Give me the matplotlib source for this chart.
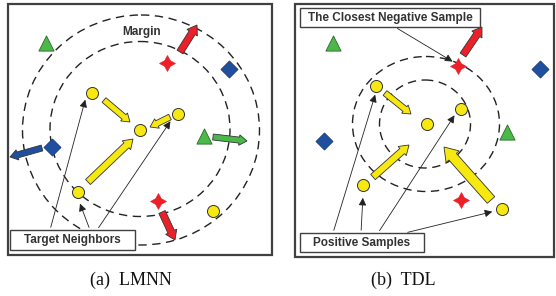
import matplotlib
matplotlib.use("Agg")
import matplotlib.pyplot as plt
from matplotlib.patches import FancyArrow, Ellipse, Rectangle, FancyArrowPatch

W, H = 556, 296
RED = "#ec2028"; YEL = "#f7e80f"; BLUE = "#1f4f9e"; GREEN = "#4db84a"

# ---- panel (a) LMNN ----
a_rings = [(141, 130, 237, 230), (140, 129, 180, 175)]
a_yellow = [(92, 93), (178, 114), (140, 130), (78, 192), (213, 211)]
a_red = [(167, 63), (158, 201)]
a_blue = [(229, 69), (52, 147)]
a_green = [(46, 43), (204, 136)]
a_arrows = [  # (x0, y0, x1, y1, colour, width)
    (180, 52, 197, 25, RED, 7),
    (162, 212, 175, 240, RED, 7),
    (213, 137, 247, 141, GREEN, 6),
    (42, 148, 10, 157, BLUE, 6),
    (104, 100, 130, 122, YEL, 6),
    (170, 117, 150, 127, YEL, 6),
    (88, 182, 133, 139, YEL, 7),
]
a_box = (10, 230, 125, 20, "Target Neighbors")
a_lines = [(50, 230, 86, 97), (97, 230, 172, 119), (90, 230, 79, 201)]

# ---- panel (b) TDL ----
b_rings = [(426, 124, 147, 135), (425, 124, 91, 88)]
b_yellow = [(376, 86), (461, 109), (427, 124), (363, 185), (502, 209)]
b_red = [(458, 66), (461, 200)]
b_blue = [(540, 69), (324, 141)]
b_green = [(333, 43), (507, 132)]
b_arrows = [
    (463, 55, 482, 27, RED, 7),
    (385, 93, 411, 114, YEL, 6),
    (373, 177, 409, 145, YEL, 7),
    (491, 200, 444, 147, YEL, 10),
]
b_box = (300, 233, 124, 19, "Positive Samples")
b_box2 = (300, 8, 180, 19, "The Closest Negative Sample")
b_lines = [(333, 233, 376, 92), (361, 233, 363, 195), (378, 233, 456, 113),
           (405, 233, 495, 211), (395, 27, 455, 63)]

captions = [(131, 280, "(a)  LMNN"), (403, 280, "(b)  TDL")]

fig = plt.figure(figsize=(W / 100, H / 100), dpi=100)
ax = fig.add_axes([0, 0, 1, 1])
ax.set_xlim(0, W); ax.set_ylim(H, 0); ax.axis("off")

# panel frames
ax.add_patch(Rectangle((8, 4), 264, 251, fill=False, ec="#404040", lw=1.6, zorder=1))
ax.add_patch(Rectangle((295, 4), 259, 253, fill=False, ec="#404040", lw=1.6, zorder=1))

def draw_panel(rings, yellow, red, blue, green, arrows, boxes, lines):
    for cx, cy, w, h in rings:
        ax.add_patch(Ellipse((cx, cy), w, h, fill=False, ec="#222", lw=1.0,
                             ls=(0, (6, 4)), zorder=2))
    for x0, y0, x1, y1 in lines:
        ax.add_patch(FancyArrowPatch((x0, y0), (x1, y1), arrowstyle="-|>,head_length=3,head_width=1.5",
                                     color="#222", lw=0.6, mutation_scale=1.5, zorder=3))
    for x0, y0, x1, y1, c, w in arrows:
        ax.add_patch(FancyArrow(x0, y0, x1 - x0, y1 - y0, width=w, head_width=w * 1.75,
                                head_length=w * 1.3, length_includes_head=True,
                                fc=c, ec="#333", lw=0.6, zorder=4))
    xs, ys = zip(*yellow)
    ax.scatter(xs, ys, s=75, c=YEL, edgecolors="#333", linewidths=0.7, zorder=5)
    xs, ys = zip(*red)
    ax.scatter(xs, ys, s=130, c=RED, marker=(4, 1, 0), edgecolors=RED, linewidths=0.5, zorder=5)
    xs, ys = zip(*blue)
    ax.scatter(xs, ys, s=75, c=BLUE, marker="D", edgecolors="#1a3a70", linewidths=0.6, zorder=5)
    xs, ys = zip(*green)
    ax.scatter(xs, ys, s=120, c=GREEN, marker="^", edgecolors="#2a6a2a", linewidths=0.6, zorder=5)
    for x, y, w, h, t in boxes:
        ax.add_patch(Rectangle((x, y), w, h, fc="white", ec="#404040", lw=1.0, zorder=6))
        ax.text(x + w / 2, y + h / 2 + 0.5, t, ha="center", va="center", fontsize=8.5,
                fontweight="bold", color="#333", family="Liberation Sans", zorder=7)

draw_panel(a_rings, a_yellow, a_red, a_blue, a_green, a_arrows, [a_box], a_lines)
draw_panel(b_rings, b_yellow, b_red, b_blue, b_green, b_arrows, [b_box, b_box2], b_lines)

ax.text(142, 32, "Margin", ha="center", va="center", fontsize=8.5, fontweight="bold",
        color="#333", family="Liberation Sans", zorder=7)

for x, y, t in captions:
    ax.text(x, y, t, ha="center", va="center", fontsize=13, family="Liberation Serif", color="#111")

fig.savefig("out.png", dpi=100)
